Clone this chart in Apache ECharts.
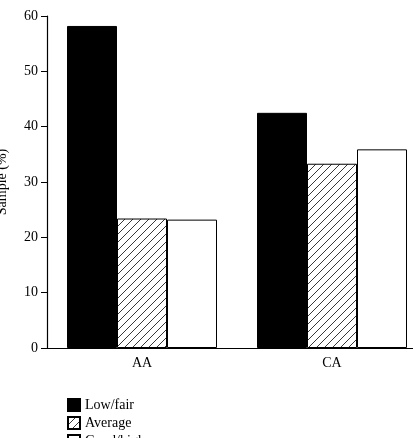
<!DOCTYPE html>
<html><head><meta charset="utf-8">
<script src="https://cdn.jsdelivr.net/npm/echarts@6/dist/echarts.min.js"></script>
<style>html,body{margin:0;padding:0;background:#fff}#c{width:413px;height:438px}</style>
</head><body><div id="c"></div>
<script>
const categories = ['AA', 'CA'];
const lowFair = [58.2, 42.5];
const average = [23.4, 33.3];
const goodHigh = [23.2, 35.9];
const seriesNames = ['Low/fair', 'Average', 'Good/high'];
const yTicks = [0, 10, 20, 30, 40, 50, 60];

function hatch() {
  const s = 8;
  const c = document.createElement('canvas');
  c.width = s; c.height = s;
  const g = c.getContext('2d');
  g.fillStyle = '#fff'; g.fillRect(0, 0, s, s);
  g.strokeStyle = '#222'; g.lineWidth = 0.9;
  g.beginPath();
  g.moveTo(0, s); g.lineTo(s, 0);
  g.moveTo(-s / 2, s / 2); g.lineTo(s / 2, -s / 2);
  g.moveTo(s / 2, s * 1.5); g.lineTo(s * 1.5, s / 2);
  g.stroke();
  return c;
}
const font = '"Liberation Serif", "DejaVu Serif", serif';
const legendTops = [393, 411, 429];
const chart = echarts.init(document.getElementById('c'));
chart.setOption({
  animation: false,
  backgroundColor: '#fff',
  textStyle: { fontFamily: font, color: '#000' },
  grid: { left: 47, right: -14, top: 16, bottom: 90, outerBoundsMode: 'none', containLabel: false },
  legend: seriesNames.map((n, i) => ({
    orient: 'vertical', left: 62, top: legendTops[i], itemWidth: 12, itemHeight: 12,
    icon: 'rect', data: [n], selectedMode: false,
    textStyle: { fontFamily: font, fontSize: 14, color: '#000' }
  })),
  xAxis: {
    type: 'category', data: categories,
    axisLine: { lineStyle: { color: '#000', width: 1.2 } },
    axisTick: { show: false },
    axisLabel: { fontFamily: font, fontSize: 14, color: '#000', margin: 8 }
  },
  yAxis: {
    type: 'value', min: yTicks[0], max: yTicks[yTicks.length - 1], interval: 10,
    name: 'Sample (%)', nameLocation: 'middle', nameGap: 38,
    nameTextStyle: { fontFamily: font, fontSize: 14, color: '#000' },
    axisLine: { show: true, lineStyle: { color: '#000', width: 1.2 } },
    axisTick: { show: true, length: 6, lineStyle: { color: '#000' } },
    axisLabel: { fontFamily: font, fontSize: 14, color: '#000', margin: 9 },
    splitLine: { show: false }
  },
  series: [
    { name: seriesNames[0], type: 'bar', data: lowFair, barWidth: 50, barGap: '0%',
      itemStyle: { color: '#000', borderColor: '#000', borderWidth: 1 } },
    { name: seriesNames[1], type: 'bar', data: average, barWidth: 50,
      itemStyle: { color: { image: hatch(), repeat: 'repeat' }, borderColor: '#000', borderWidth: 1 } },
    { name: seriesNames[2], type: 'bar', data: goodHigh, barWidth: 50,
      itemStyle: { color: '#fff', borderColor: '#000', borderWidth: 1 } }
  ]
});
</script></body></html>
